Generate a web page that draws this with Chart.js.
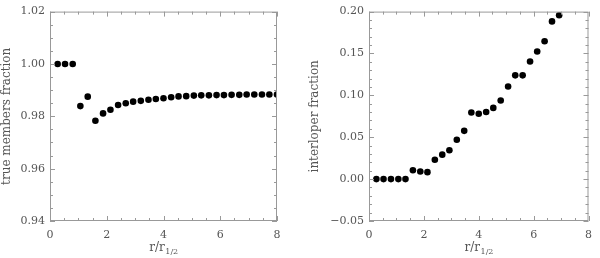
<!DOCTYPE html>
<html>
<head>
<meta charset="utf-8">
<script src="https://cdn.jsdelivr.net/npm/chart.js@4.4.1/dist/chart.umd.min.js"></script>
<style>
  html, body { margin: 0; padding: 0; background: #fff; }
  .panel { position: absolute; top: 0; width: 300px; height: 258px; }
</style>
</head>
<body>
<div class="panel" style="left:0"><canvas id="left" width="300" height="258"></canvas></div>
<div class="panel" style="left:300px"><canvas id="right" width="300" height="258"></canvas></div>
<script>
// radius bins, r / r_1/2 (step of 8/30)
const radiusBins = [
  0.27, 0.53, 0.80, 1.07, 1.33, 1.60, 1.87, 2.13, 2.40, 2.67,
  2.93, 3.20, 3.47, 3.73, 4.00, 4.27, 4.53, 4.80, 5.07, 5.33,
  5.60, 5.87, 6.13, 6.40, 6.67, 6.93, 7.20, 7.47, 7.73, 8.00,
];

const trueMembersFraction = [
  1.000, 1.000, 1.000, 0.9839, 0.9875, 0.9783, 0.9811, 0.9825, 0.9843, 0.9850,
  0.9856, 0.9859, 0.9863, 0.9866, 0.9869, 0.9873, 0.9876, 0.9877, 0.9879, 0.9880,
  0.9880, 0.9881, 0.9881, 0.9882, 0.9882, 0.9883, 0.9883, 0.9883, 0.9883, 0.9883,
];

const interloperFraction = [
  0.000, 0.000, 0.000, 0.000, 0.000, 0.0106, 0.0091, 0.0083, 0.0231, 0.0292,
  0.0345, 0.0470, 0.0576, 0.0795, 0.0780, 0.0802, 0.0850, 0.0939, 0.1106, 0.1239,
  0.1239, 0.1404, 0.1523, 0.1646, 0.1883, 0.1956,
];

const xTicks = [0, 2, 4, 6, 8];
const leftYTicks = [0.94, 0.96, 0.98, 1.00, 1.02];
const rightYTicks = [-0.05, 0.00, 0.05, 0.10, 0.15, 0.20];

const textColor = "#555";
const axisColor = "#999";
const serif = "'DejaVu Serif', 'Liberation Serif', serif";

// inward ticks on all four sides + closed box + subscripted x title
const boxPlugin = {
  id: "idlBox",
  afterDraw(chart, args, opts) {
    const { ctx, chartArea: a, scales } = chart;
    const xs = scales.x, ys = scales.y;
    ctx.save();
    ctx.strokeStyle = axisColor;
    ctx.lineWidth = 1;
    ctx.strokeRect(a.left + 0.5, a.top + 0.5, a.right - a.left - 1, a.bottom - a.top - 1);

    ctx.beginPath();
    for (let v = xs.min; v <= xs.max + 1e-9; v += opts.xMinor) {
      const px = Math.round(xs.getPixelForValue(v)) + 0.5;
      const major = Math.abs(v / opts.xMajor - Math.round(v / opts.xMajor)) < 1e-6;
      const len = major ? 5 : 3;
      ctx.moveTo(px, a.bottom); ctx.lineTo(px, a.bottom - len);
      ctx.moveTo(px, a.top); ctx.lineTo(px, a.top + len);
    }
    const n = Math.round((ys.max - ys.min) / opts.yMinor);
    for (let i = 0; i <= n; i++) {
      const v = ys.min + i * opts.yMinor;
      const py = Math.round(ys.getPixelForValue(v)) + 0.5;
      const major = i % opts.yPer === 0;
      const len = major ? 5 : 3;
      ctx.moveTo(a.left, py); ctx.lineTo(a.left + len, py);
      ctx.moveTo(a.right, py); ctx.lineTo(a.right - len, py);
    }
    ctx.stroke();

    // x title: r/r_{1/2}
    ctx.fillStyle = textColor;
    ctx.textBaseline = "alphabetic";
    const main = "r/r";
    ctx.font = "12px " + serif;
    const w1 = ctx.measureText(main).width;
    ctx.font = "8px " + serif;
    const w2 = ctx.measureText("1/2").width;
    const cx = (a.left + a.right) / 2;
    const x0 = cx - (w1 + w2) / 2;
    const y0 = 251;
    ctx.font = "12px " + serif;
    ctx.fillText(main, x0, y0);
    ctx.font = "8px " + serif;
    ctx.fillText("1/2", x0 + w1 + 0.5, y0 + 3);
    ctx.restore();
  },
};

function makeChart(id, values, yTicks, yTitle, titlePad, yWidth, padRight, minor) {
  return new Chart(document.getElementById(id), {
    type: "scatter",
    data: {
      datasets: [
        {
          data: values.map((v, i) => ({ x: radiusBins[i], y: v })),
          backgroundColor: "#000",
          borderWidth: 0,
          pointRadius: 3.3,
        },
      ],
    },
    options: {
      responsive: false,
      animation: false,
      events: [],
      layout: { padding: { top: 2, right: padRight, left: 0, bottom: 0 } },
      plugins: {
        legend: { display: false },
        tooltip: { enabled: false },
        idlBox: minor,
      },
      scales: {
        x: {
          type: "linear",
          min: 0,
          max: 8,
          afterBuildTicks: (s) => { s.ticks = xTicks.map((v) => ({ value: v })); },
          afterFit: (s) => { s.height = 37; },
          grid: { display: false, drawTicks: false },
          border: { display: false },
          ticks: {
            color: textColor,
            font: { family: serif, size: 11 },
            padding: 8,
            maxRotation: 0,
            callback: (v) => String(v),
          },
        },
        y: {
          type: "linear",
          min: yTicks[0],
          max: yTicks[yTicks.length - 1],
          afterBuildTicks: (s) => { s.ticks = yTicks.map((v) => ({ value: v })); },
          afterFit: (s) => { s.width = yWidth; },
          grid: { display: false, drawTicks: false },
          border: { display: false },
          title: {
            display: true,
            text: yTitle,
            color: textColor,
            font: { family: serif, size: 12 },
            padding: { top: titlePad, bottom: 0 },
          },
          ticks: {
            color: textColor,
            font: { family: serif, size: 11 },
            padding: 5,
            callback: (v) => v.toFixed(2).replace("-", "\u2212"),
          },
        },
      },
    },
    plugins: [boxPlugin],
  });
}

makeChart("left", trueMembersFraction, leftYTicks, "true members fraction", 0, 50, 23,
  { xMinor: 0.5, xMajor: 2, yMinor: 0.005, yPer: 4 });
makeChart("right", interloperFraction, rightYTicks, "interloper fraction", 8, 69, 3,
  { xMinor: 0.5, xMajor: 2, yMinor: 0.01, yPer: 5 });
</script>
</body>
</html>
